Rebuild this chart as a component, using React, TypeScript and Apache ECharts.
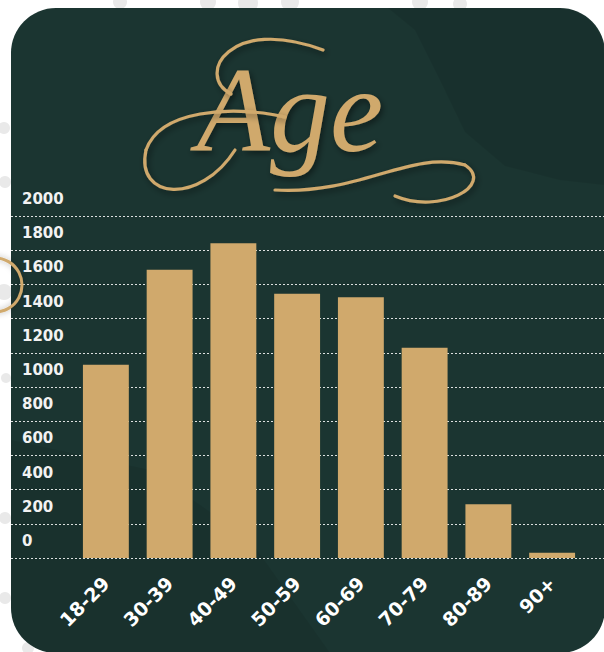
import React, { useEffect, useRef } from "react";
import * as echarts from "echarts";

const categories = ["18-29", "30-39", "40-49", "50-59", "60-69", "70-79", "80-89", "90+"];
const counts = [1130, 1685, 1840, 1545, 1525, 1230, 315, 30];
const yMin = 0;
const yMax = 2000;
const yStep = 200;
const titleText = "Age";

const GOLD = "#d0a96c";
const BG = "#1b3531";

export default function App() {
  const ref = useRef<HTMLDivElement>(null);
  useEffect(() => {
    if (!ref.current) return;
    const chart = echarts.init(ref.current, null, { renderer: "svg" });
    const font = "'DejaVu Sans', sans-serif";
    const swash = (x1, y1, cpx1, cpy1, cpx2, cpy2, x2, y2) => ({
      type: "bezierCurve",
      z: 20,
      shape: { x1, y1, cpx1, cpy1, cpx2, cpy2, x2, y2 },
      style: {
        stroke: GOLD,
        lineWidth: 3.2,
        fill: null,
        lineCap: "round",
        shadowBlur: 6,
        shadowColor: "rgba(0,0,0,0.45)",
        shadowOffsetX: 2,
        shadowOffsetY: 3,
      },
    });
    const blobs = [
      [120, 2, 7], [208, 2, 8], [248, 3, 10], [290, 2, 9], [420, 2, 8], [460, 4, 7],
      [4, 128, 6], [5, 182, 6], [4, 292, 8], [6, 378, 5], [5, 518, 6], [5, 598, 6], [28, 648, 6],
    ];
    chart.setOption({
      animation: false,
      graphic: [
        ...blobs.map(([x, y, r]) => ({
          type: "circle",
          z: -20,
          shape: { cx: x, cy: y, r },
          style: { fill: "#e9e9e9" },
        })),
        {
          type: "rect",
          z: -10,
          shape: { x: 11, y: 8, width: 594, height: 645, r: 45 },
          style: { fill: BG },
        },
        {
          type: "polygon",
          z: -9,
          shape: {
            points: [
              [388, 8], [559, 8], [576, 11], [591, 21], [601, 36], [604, 53], [604, 185],
              [560, 180], [505, 166], [465, 132], [440, 80], [415, 30],
            ],
          },
          style: { fill: "rgba(0,0,0,0.08)" },
        },
        {
          type: "polygon",
          z: -9,
          shape: {
            points: [
              [11, 440], [150, 470], [250, 540], [330, 653], [56, 653], [39, 650], [24, 640], [14, 625], [11, 608],
            ],
          },
          style: { fill: "rgba(0,0,0,0.07)" },
        },
        {
          type: "circle",
          z: 20,
          shape: { cx: -5, cy: 285, r: 27 },
          style: {
            fill: null,
            stroke: GOLD,
            lineWidth: 3,
            shadowBlur: 6,
            shadowColor: "rgba(0,0,0,0.3)",
          },
        },
        {
          type: "text",
          z: 20,
          x: 290,
          y: 110,
          style: {
            text: titleText,
            fill: GOLD,
            font: "italic 120px 'Liberation Serif', serif",
            align: "center",
            verticalAlign: "middle",
            textShadowBlur: 6,
            textShadowColor: "rgba(0,0,0,0.45)",
            textShadowOffsetX: 2,
            textShadowOffsetY: 3,
          },
        },
        swash(285, 117, 230, 105, 160, 110, 146, 150),
        swash(146, 150, 135, 200, 200, 205, 235, 150),
        swash(231, 94, 195, 75, 230, 15, 323, 50),
        swash(275, 190, 360, 195, 410, 150, 465, 165),
        swash(465, 165, 495, 185, 440, 215, 395, 196),
      ],
      grid: [
        { left: 11, right: 0, top: 216, bottom: 94 },
        { left: 74, right: 20, top: 216, bottom: 94 },
      ],
      xAxis: [
        { type: "value", gridIndex: 0, min: 0, max: 1, show: false },
        {
          type: "category",
          gridIndex: 1,
          data: categories,
          axisLine: { show: false },
          axisTick: { show: false },
          axisLabel: {
            rotate: 45,
            margin: 22,
            color: "#ffffff",
            fontFamily: font,
            fontWeight: "bold",
            fontSize: 19,
            interval: 0,
          },
        },
      ],
      yAxis: [
        {
          type: "value",
          gridIndex: 0,
          min: yMin,
          max: yMax,
          interval: yStep,
          axisLine: { show: false },
          axisTick: { show: false },
          splitLine: {
            show: true,
            lineStyle: { color: "rgba(255,255,255,0.85)", width: 1, type: [2, 2] },
          },
          axisLabel: {
            inside: true,
            margin: 11,
            align: "left",
            verticalAlign: "bottom",
            lineHeight: 16,
            padding: [0, 0, 9, 0],
            color: "#f2f2f2",
            fontFamily: font,
            fontWeight: "bold",
            fontSize: 15,
            formatter: (v: number) => String(v),
          },
        },
        { type: "value", gridIndex: 1, min: yMin, max: yMax, interval: yStep, show: false, splitLine: { show: false } },
      ],
      series: [
        {
          type: "bar",
          xAxisIndex: 1,
          yAxisIndex: 1,
          data: counts,
          barWidth: "72%",
          itemStyle: { color: GOLD },
          z: 5,
        },
      ],
    });
    return () => chart.dispose();
  }, []);
  return (
    <div
      ref={ref}
      style={{ position: "fixed", left: 0, top: 0, width: 604, height: 652, background: "#ffffff" }}
    />
  );
}
